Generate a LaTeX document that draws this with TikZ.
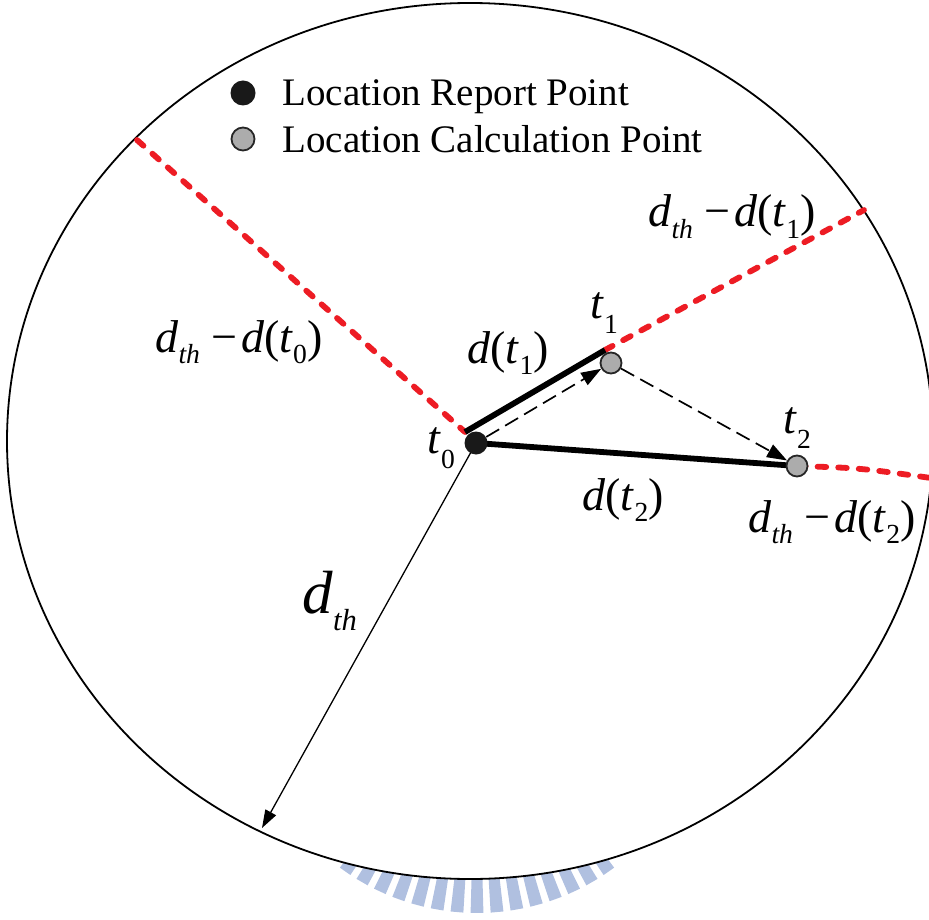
\documentclass[tikz,border=0pt]{standalone}
\usepackage{fontspec}
\setmainfont{Liberation Serif}
\usetikzlibrary{arrows.meta}
\definecolor{ptred}{RGB}{237,28,36}
\definecolor{wmblue}{RGB}{176,192,224}
\newcommand{\lsub}[2][0.25]{\raisebox{-#1em}{\scalebox{0.6}{#2}}}
\newcommand{\dth}{\textit{d}\lsub{\textit{th}}}
\newcommand{\dminus}[1]{\dth\hspace{0.25em}−\hspace{0.08em}\textit{d}(\textit{t}\lsub{#1})}
\tikzset{
  rim/.style={line width=0.9pt, draw=black},
  reddash/.style={draw=ptred, line width=2.9pt, line cap=round, dash pattern=on 4.3pt off 6pt},
  thickline/.style={line width=2.9pt, draw=black},
  dasharrow/.style={line width=0.85pt, dash pattern=on 7.5pt off 3.5pt, -{Triangle[length=10pt,width=7pt]}},
  radarrow/.style={line width=0.65pt, -{Triangle[length=9pt,width=6pt]}},
  reportpt/.style={circle, fill=black!90, inner sep=0pt, minimum size=11.5pt},
  calcpt/.style={circle, fill=gray!65, draw=black!85, line width=0.9pt, inner sep=0pt, minimum size=10.5pt},
  lbl/.style={inner sep=0pt, anchor=base west, font=\fontsize{23}{27}\selectfont},
  legtxt/.style={inner sep=0pt, anchor=base west, font=\fontsize{19.5}{23}\selectfont},
  wm/.style={fill=wmblue}
}
\begin{document}
\begin{tikzpicture}[x=0.5pt, y=-0.5pt]
\useasboundingbox (0,0) rectangle (929,919);
\clip (0,0) rectangle (929,919);
% watermark bars
\begin{scope}[shift={(477,683)}]
\foreach \a in {-35,-30,...,35}{
  \fill[wm] ({90+\a-1.6}:180) -- ({90+\a+1.6}:180) -- ({90+\a+1.6}:230) -- ({90+\a-1.6}:230) -- cycle;
}
\end{scope}
% big circle
\fill[white] (470,441) ellipse [x radius=231.5pt, y radius=219pt];
\draw[rim] (470,441) ellipse [x radius=231.5pt, y radius=219pt];
% key coordinates
\coordinate (T0) at (476,443);
\coordinate (T1) at (611,363);
\coordinate (T2) at (797,466);
\coordinate (C0) at (465,432);
\coordinate (C1) at (605,350);
\coordinate (E0) at (137,140);
\coordinate (E1) at (864,210);
\coordinate (E2) at (931,478);
\coordinate (rimpt) at (262,828);
% red dotted boundaries
\draw[reddash] (E0) -- (C0);
\draw[reddash] (C1) -- (E1);
\draw[reddash] (T2) .. controls (860,468) .. (E2);
% thick lines
\draw[thickline] (C0) -- (C1);
\draw[thickline] (T0) -- (T2);
% radius arrow
\draw[radarrow] (T0) -- (rimpt);
% points
\node[reportpt] (t0) at (T0) {};
\node[calcpt] (t1) at (T1) {};
\node[calcpt] (t2) at (T2) {};
% dashed arrows
\draw[dasharrow] (t0) -- (t1);
\draw[dasharrow] (t1) -- (t2);
% legend
\node[reportpt, minimum size=12.5pt] (legR) at (243,93) {};
\node[calcpt, minimum size=11.5pt] (legC) at (243,139) {};
\node[legtxt] (legRtxt) at (282,106) {Location Report Point};
\node[legtxt] (legCtxt) at (282,153) {Location Calculation Point};
% labels
\node[lbl] (lab0) at (155,352) {\dminus{0}};
\node[lbl] (lab1) at (648,227) {\dminus{1}};
\node[lbl] (lab2) at (748,532) {\dminus{2}};
\node[lbl] (dt1) at (467,363) {\textit{d}(\textit{t}\lsub{1})};
\node[lbl] (dt2) at (582,510) {\textit{d}(\textit{t}\lsub{2})};
\node[lbl] (lt0) at (427,453) {\textit{t}\lsub[0.33]{0}};
\node[lbl] (lt1) at (590,318) {\textit{t}\lsub[0.33]{1}};
\node[lbl] (lt2) at (783,433) {\textit{t}\lsub[0.33]{2}};
\node[inner sep=0pt, anchor=base west, font=\fontsize{30.5}{36}\selectfont] (ldth) at (302,613) {\textit{d}\raisebox{-0.28em}{\scalebox{0.5}{\textit{th}}}};
\end{tikzpicture}
\end{document}
